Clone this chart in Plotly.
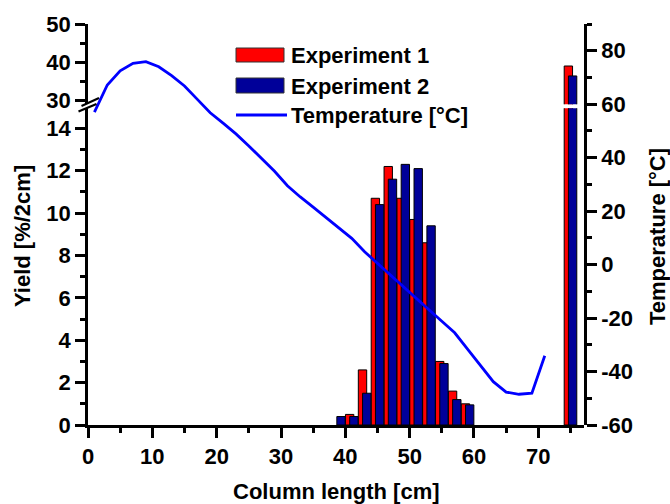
import plotly.graph_objects as go

# ---- data ----
col_centers = [39, 41, 43, 45, 47, 49, 51, 53, 55, 57, 59, 75]
exp1_yield = [None, 0.5, 2.6, 10.7, 12.2, 10.7, 9.7, 8.6, 3.0, 1.6, 1.0, 39.0]
exp2_yield = [0.4, 0.4, 1.5, 10.4, 11.6, 12.3, 12.1, 9.4, 2.9, 1.2, 0.95, 36.4]

temp_x = [1, 3, 5, 7, 9, 11, 13, 15, 17, 19, 21, 23, 25, 27, 29, 31, 33, 35,
          37, 39, 41, 43, 45, 47, 49, 51, 53, 55, 57, 59, 61, 63, 65, 67, 69, 71]
temp_c = [57.0, 67.2, 72.5, 75.3, 75.9, 74.0, 70.7, 66.8, 61.8, 56.8, 52.9, 48.9,
          44.4, 39.7, 34.9, 29.5, 25.3, 21.5, 17.7, 13.7, 9.8, 4.8, 0.4, -3.9,
          -8.1, -12.5, -16.9, -21.2, -25.5, -31.6, -37.6, -43.8, -47.7, -48.5,
          -48.1, -34.1]

temp_ticks = [-60, -40, -20, 0, 20, 40, 60, 80]
temp_ticktext = ["-60", "-40", "-20", "0", "20", "40", "60", "80"]

# ---- styling ----
W, H = 670, 504
ML, MR, MT, MB = 88, 86, 24, 79
PW, PH = W - ML - MR, H - MT - MB
FONT = "Liberation Sans, Arial, sans-serif"
FS = 22
RED = "#FF0000"
NAVY = "#000099"
LINEBLUE = "#0000FF"
AX_W = 2.5
BAR_W = 1.3
OFF = 0.33

def px_x(px):
    return (px - ML) / PW

def px_y(py):
    return (H - MB - py) / PH

red_x = [c - OFF for c in col_centers]
blue_x = [c + OFF for c in col_centers]

fig = go.Figure()
for xa, ya in (("x", "y"), ("x2", "y2")):
    fig.add_trace(go.Bar(x=red_x, y=exp1_yield, width=BAR_W, xaxis=xa, yaxis=ya,
                         marker=dict(color=RED, line=dict(color="#000000", width=1)),
                         name="Experiment 1", showlegend=False))
    fig.add_trace(go.Bar(x=blue_x, y=exp2_yield, width=BAR_W, xaxis=xa, yaxis=ya,
                         marker=dict(color=NAVY, line=dict(color="#000000", width=1)),
                         name="Experiment 2", showlegend=False))

fig.add_trace(go.Scatter(x=temp_x, y=temp_c, mode="lines", xaxis="x3", yaxis="y3",
                         line=dict(color=LINEBLUE, width=2.8),
                         name="Temperature [°C]", showlegend=False))

tickfont = dict(family=FONT, size=FS, color="black", weight="bold")
common = dict(showgrid=False, zeroline=False, showline=True, linewidth=AX_W,
              linecolor="black", ticks="outside", ticklen=10, tickwidth=AX_W,
              tickcolor="black", tickfont=tickfont)
XR = [0, 77.1]

fig.update_layout(
    width=W, height=H, autosize=False,
    margin=dict(l=ML, r=MR, t=MT, b=MB, pad=0),
    paper_bgcolor="white", plot_bgcolor="rgba(0,0,0,0)",
    barmode="overlay", showlegend=False,
    font=dict(family=FONT, size=FS, color="black"),
    xaxis=dict(domain=[0, 1], anchor="y", range=XR, tickmode="linear", tick0=0, dtick=10,
               minor=dict(ticks="outside", ticklen=5, tickwidth=AX_W, tickcolor="black", dtick=5, tick0=0),
               **common),
    yaxis=dict(domain=[0, 0.79], anchor="x", range=[0, 14.95], tickmode="linear", tick0=0, dtick=2,
               minor=dict(ticks="outside", ticklen=5, tickwidth=AX_W, tickcolor="black", dtick=1, tick0=0),
               **common),
    xaxis2=dict(domain=[0, 1], anchor="y2", range=XR, visible=False),
    yaxis2=dict(domain=[0.80, 1], anchor="x2", range=[29, 50], tickmode="linear", tick0=0, dtick=10,
                minor=dict(ticks="outside", ticklen=5, tickwidth=AX_W, tickcolor="black", dtick=5, tick0=0),
                **common),
    xaxis3=dict(domain=[0, 1], anchor="y3", range=XR, visible=False),
    yaxis3=dict(domain=[0, 1], anchor="x3", side="right", range=[-60, 90],
                tickmode="array", tickvals=temp_ticks, ticktext=temp_ticktext,
                minor=dict(ticks="outside", ticklen=5, tickwidth=AX_W, tickcolor="black", dtick=10, tick0=-60),
                **common),
)

titlefont = dict(family=FONT, size=FS, color="black", weight="bold")
annots = [
    dict(text="Column length [cm]", x=px_x(336), y=px_y(491), textangle=0),
    dict(text="Yield [%/2cm]", x=px_x(23), y=px_y(236), textangle=-90),
    dict(text="Temperature [°C]", x=px_x(657), y=px_y(237), textangle=-90),
]
for a in annots:
    fig.add_annotation(xref="paper", yref="paper", showarrow=False, font=titlefont,
                       xanchor="center", yanchor="middle", **a)

# legend (manual)
legend_items = [("Experiment 1", "rect", RED, 48, 62), ("Experiment 2", "rect", NAVY, 78, 93),
                ("Temperature [°C]", "line", LINEBLUE, 115, 115)]
for label, kind, col, y0, y1 in legend_items:
    if kind == "rect":
        fig.add_shape(type="rect", xref="paper", yref="paper",
                      x0=px_x(236), x1=px_x(284), y0=px_y(y1), y1=px_y(y0),
                      fillcolor=col, line=dict(color="#333333", width=1))
    else:
        fig.add_shape(type="line", xref="paper", yref="paper",
                      x0=px_x(236), x1=px_x(287), y0=px_y(y0), y1=px_y(y1),
                      line=dict(color=col, width=2.8))
    fig.add_annotation(xref="paper", yref="paper", showarrow=False, font=titlefont,
                       text=label, x=px_x(289), y=px_y((y0 + y1) / 2 + 0.5),
                       xanchor="left", yanchor="middle")

# axis break marks
for (xa, ya, xb, yb) in [(81.5, 106, 99, 98), (78.5, 111.5, 96.5, 104)]:
    fig.add_shape(type="line", xref="paper", yref="paper",
                  x0=px_x(xa), y0=px_y(ya), x1=px_x(xb), y1=px_y(yb),
                  line=dict(color="black", width=2.2))

fig.write_html("out.html", config={"displayModeBar": False},
               post_script="document.body.style.margin='0';document.body.style.overflow='hidden';")
